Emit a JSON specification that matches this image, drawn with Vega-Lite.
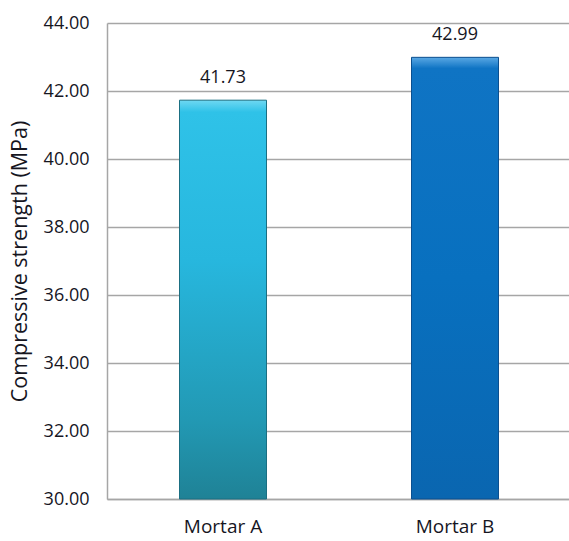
{
  "$schema": "https://vega.github.io/schema/vega-lite/v6.json",
  "autosize": "none",
  "width": 464,
  "height": 476,
  "padding": {"left": 107, "top": 23, "right": 0, "bottom": 42},
  "background": "#ffffff",
  "config": {
    "view": {"stroke": null},
    "font": "Open Sans",
    "text": {"font": "Open Sans"}
  },
  "data": {
    "values": [
      {"mortar": "Mortar A", "strength": 41.73},
      {"mortar": "Mortar B", "strength": 42.99}
    ]
  },
  "encoding": {
    "x": {
      "field": "mortar",
      "type": "nominal",
      "sort": null,
      "scale": {"paddingInner": 0.625, "paddingOuter": 0.3125},
      "axis": {
        "title": null,
        "labelAngle": 0,
        "labelFont": "Open Sans",
        "labelFontSize": 19,
        "labelColor": "#16161f",
        "labelPadding": 18,
        "labelBaseline": "top",
        "ticks": false,
        "domainColor": "#a6a6a6",
        "domainWidth": 1.5
      }
    },
    "y": {
      "field": "strength",
      "type": "quantitative",
      "scale": {"domain": [30, 44], "nice": false, "zero": false},
      "axis": {
        "title": "Compressive strength (MPa)",
        "titleFont": "Open Sans",
        "titleFontSize": 21.5,
        "titleFontWeight": "normal",
        "titleColor": "#16161f",
        "titleX": -76,
        "values": [30, 32, 34, 36, 38, 40, 42, 44],
        "format": ".2f",
        "labelFont": "Open Sans",
        "labelFontSize": 18,
        "labelColor": "#16161f",
        "labelPadding": 18,
        "ticks": false,
        "grid": true,
        "gridColor": "#a6a6a6",
        "gridWidth": 1.5,
        "domainColor": "#a6a6a6",
        "domainWidth": 1.5
      }
    }
  },
  "layer": [
    {
      "transform": [{"filter": "datum.mortar === 'Mortar A'"}],
      "mark": {
        "type": "bar",
        "stroke": "#1b6f82",
        "strokeWidth": 1,
        "color": {
          "gradient": "linear",
          "x1": 0, "y1": 0, "x2": 0, "y2": 1,
          "stops": [
            {"offset": 0, "color": "#6fd8f2"},
            {"offset": 0.03, "color": "#2fc2e8"},
            {"offset": 0.4, "color": "#27b7de"},
            {"offset": 0.8, "color": "#2299b4"},
            {"offset": 1, "color": "#1f8296"}
          ]
        }
      },
      "encoding": {"y2": {"datum": 30}}
    },
    {
      "transform": [{"filter": "datum.mortar === 'Mortar B'"}],
      "mark": {
        "type": "bar",
        "stroke": "#0b4f8f",
        "strokeWidth": 1,
        "color": {
          "gradient": "linear",
          "x1": 0, "y1": 0, "x2": 0, "y2": 1,
          "stops": [
            {"offset": 0, "color": "#5aa8e4"},
            {"offset": 0.025, "color": "#0f74c4"},
            {"offset": 0.5, "color": "#0870bf"},
            {"offset": 1, "color": "#0a66b0"}
          ]
        }
      },
      "encoding": {"y2": {"datum": 30}}
    },
    {
      "mark": {
        "type": "text",
        "baseline": "bottom",
        "dy": -13,
        "fontSize": 18,
        "color": "#16161f"
      },
      "encoding": {
        "text": {"field": "strength", "type": "quantitative", "format": ".2f"}
      }
    }
  ]
}
